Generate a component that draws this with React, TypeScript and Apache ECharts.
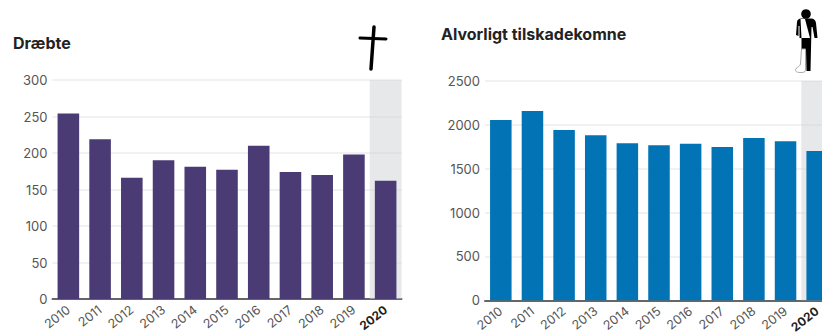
import React, { useEffect, useRef } from "react";
import * as echarts from "echarts";

const years = ["2010", "2011", "2012", "2013", "2014", "2015", "2016", "2017", "2018", "2019", "2020"];
const killed = [254, 219, 166, 190, 181, 177, 210, 174, 170, 198, 162];
const injured = [2055, 2158, 1941, 1881, 1790, 1767, 1786, 1748, 1850, 1813, 1702];
const killedShade = [null, null, null, null, null, null, null, null, null, null, 300];
const injuredShade = [null, null, null, null, null, null, null, null, null, null, 2500];
const killedTitle = "Dræbte";
const injuredTitle = "Alvorligt tilskadekomne";

const FONT = "Inter, 'Noto Sans', sans-serif";

const personBody =
  "M -9 8 C -9 6 -7 4.5 -5 4.5 L 5 4.5 C 8 4.5 9.5 6 10 9 L 11.5 24 L 8.5 24 L 6.5 13 L 5.5 13 L 5 35 L 4.5 57 L 0.5 57 L 0 35 L -4.5 35 L -4.5 24 L -6.5 24 L -6.5 12 L -7.5 12 L -7.5 22 L -10 21 Z";
const personSling = "M -5.5 5 L -1 5 L 4 24 L -4.5 24 Z";
const personCast = "M -4.5 35 L -0.5 35 L -0.5 56 C -0.5 58.5 -3 58.5 -6 58.5 C -10 58.5 -11.5 56.5 -10 54.5 C -8 53 -6 52 -5.5 50 Z";
echarts.graphic.registerShape("personBody", echarts.graphic.extendPath(personBody, {}));
echarts.graphic.registerShape("personSling", echarts.graphic.extendPath(personSling, {}));
echarts.graphic.registerShape("personCast", echarts.graphic.extendPath(personCast, {}));

const yearLabels = years.map((y) =>
  y === "2020" ? { value: y, textStyle: { fontWeight: "bold", color: "#222", fontSize: 12 } } : y
);

const buildX = (gridIndex: number) => [
  {
    type: "category",
    gridIndex,
    data: yearLabels,
    axisTick: { show: false },
    axisLine: { lineStyle: { color: "#666", width: 2 } },
    axisLabel: { rotate: 38, interval: 0, margin: 9, color: "#555", fontSize: 12.5, fontFamily: FONT },
  },
  { type: "category", gridIndex, data: years, show: false },
];

const buildY = (gridIndex: number, max: number, interval: number) => ({
  type: "value",
  gridIndex,
  min: 0,
  max,
  interval,
  axisLine: { show: false },
  axisTick: { show: false },
  splitLine: { lineStyle: { color: "#ececec", width: 1.5 } },
  axisLabel: {
    margin: 5,
    color: "#555",
    fontSize: 13,
    fontFamily: FONT,
    formatter: (v: number) => String(v),
  },
});

const buildSeries = (idx: number, values: number[], shade: (number | null)[], color: string) => [
  {
    type: "bar",
    xAxisIndex: idx * 2 + 1,
    yAxisIndex: idx,
    data: shade,
    barWidth: "100%",
    itemStyle: { color: "rgba(205,207,211,0.47)" },
    silent: true,
    z: 1,
  },
  {
    type: "bar",
    xAxisIndex: idx * 2,
    yAxisIndex: idx,
    data: values,
    barWidth: "68%",
    itemStyle: { color },
    z: 2,
  },
];

export default function App() {
  const ref = useRef<HTMLDivElement>(null);

  useEffect(() => {
    const chart = echarts.init(ref.current!, null, { renderer: "svg" });
    chart.setOption({
      animation: false,
      backgroundColor: "#fff",
      title: [
        {
          text: killedTitle,
          left: 8,
          top: 30,
          textStyle: { fontFamily: FONT, fontSize: 16, fontWeight: "bold", color: "#222" },
        },
        {
          text: injuredTitle,
          left: 436,
          top: 21,
          textStyle: { fontFamily: FONT, fontSize: 16, fontWeight: "bold", color: "#222" },
        },
      ],
      // The right panel runs past the page edge, so the grids keep their set size
      grid: [
        { left: 52.5, top: 80, width: 349, height: 219, outerBoundsMode: "none" },
        { left: 485, top: 81, width: 348, height: 219.3, outerBoundsMode: "none" },
      ],
      xAxis: [...buildX(0), ...buildX(1)],
      yAxis: [buildY(0, 300, 50), buildY(1, 2500, 500)],
      series: [
        ...buildSeries(0, killed, killedShade, "#4a3b74"),
        ...buildSeries(1, injured, injuredShade, "#0273b5"),
      ],
      graphic: [
        // Cross above the killed panel
        {
          type: "line",
          shape: { x1: 374, y1: 27, x2: 371, y2: 69 },
          style: { stroke: "#000", lineWidth: 3.5, lineCap: "round" },
        },
        {
          type: "line",
          shape: { x1: 360, y1: 38, x2: 386, y2: 39 },
          style: { stroke: "#000", lineWidth: 3, lineCap: "round" },
        },
        // Injured figure with sling and leg cast
        { type: "circle", shape: { cx: 806, cy: 14, r: 4.8 }, style: { fill: "#000" } },
        { type: "personBody", x: 806, y: 14, style: { fill: "#000" } },
        { type: "personSling", x: 806, y: 14, style: { fill: "#fff" } },
        { type: "personCast", x: 806, y: 14, style: { fill: "#fff", stroke: "#aaa", lineWidth: 1 } },
      ],
    });
    return () => chart.dispose();
  }, []);

  return (
    <div
      ref={ref}
      style={{ position: "absolute", left: 0, top: 0, width: 822, height: 335, overflow: "hidden" }}
    />
  );
}
